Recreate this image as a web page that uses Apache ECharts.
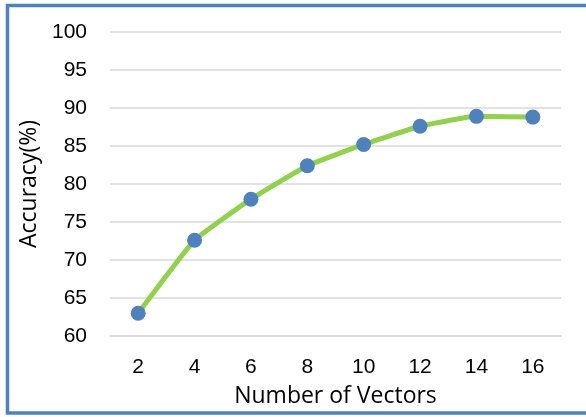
<!DOCTYPE html>
<html>
<head>
<meta charset="utf-8">
<script src="https://cdn.jsdelivr.net/npm/echarts@6/dist/echarts.min.js"></script>
<style>
  html, body { margin: 0; padding: 0; background: #ffffff; }
  #chart { width: 586px; height: 417px; }
</style>
</head>
<body>
<div id="chart"></div>
<script>
// Accuracy versus number of vectors
const vectorCounts = ['2', '4', '6', '8', '10', '12', '14', '16'];
const accuracy = [63.0, 72.6, 78.0, 82.4, 85.2, 87.6, 88.9, 88.8];
const yMin = 60, yMax = 100, yStep = 5;

const chart = echarts.init(document.getElementById('chart'), null, { renderer: 'canvas' });

chart.setOption({
  backgroundColor: '#ffffff',
  animation: false,
  graphic: [{
    type: 'rect',
    shape: { x: 7.5, y: 5.5, width: 620, height: 407.5 },
    style: { fill: 'none', stroke: '#4F81BD', lineWidth: 3.5 },
    z: 100
  }],
  grid: { left: 110, right: 25, top: 32, bottom: 81 },
  xAxis: {
    type: 'category',
    data: vectorCounts,
    boundaryGap: true,
    name: 'Number of Vectors',
    nameLocation: 'middle',
    nameGap: 49,
    nameTextStyle: { fontFamily: 'Open Sans', fontSize: 23, color: '#000' },
    axisLine: { show: true, lineStyle: { color: '#d9d9d9', width: 1.5 } },
    axisTick: { show: false },
    axisLabel: { fontFamily: 'Liberation Sans', fontSize: 21, color: '#000', margin: 21 }
  },
  yAxis: {
    type: 'value',
    min: yMin,
    max: yMax,
    interval: yStep,
    name: 'Accuracy(%)',
    nameLocation: 'middle',
    nameGap: 68,
    nameRotate: 90,
    nameTextStyle: { fontFamily: 'Open Sans', fontSize: 23, color: '#000' },
    axisLine: { show: false },
    axisTick: { show: false },
    axisLabel: { fontFamily: 'Liberation Sans', fontSize: 21, color: '#000', margin: 23 },
    splitLine: { lineStyle: { color: '#d9d9d9', width: 1.5 } }
  },
  series: [{
    type: 'line',
    data: accuracy,
    smooth: 0.12,
    symbol: 'circle',
    symbolSize: 15,
    lineStyle: { color: '#92D050', width: 5 },
    itemStyle: { color: '#4F81BD', borderWidth: 0 }
  }]
});
</script>
</body>
</html>
